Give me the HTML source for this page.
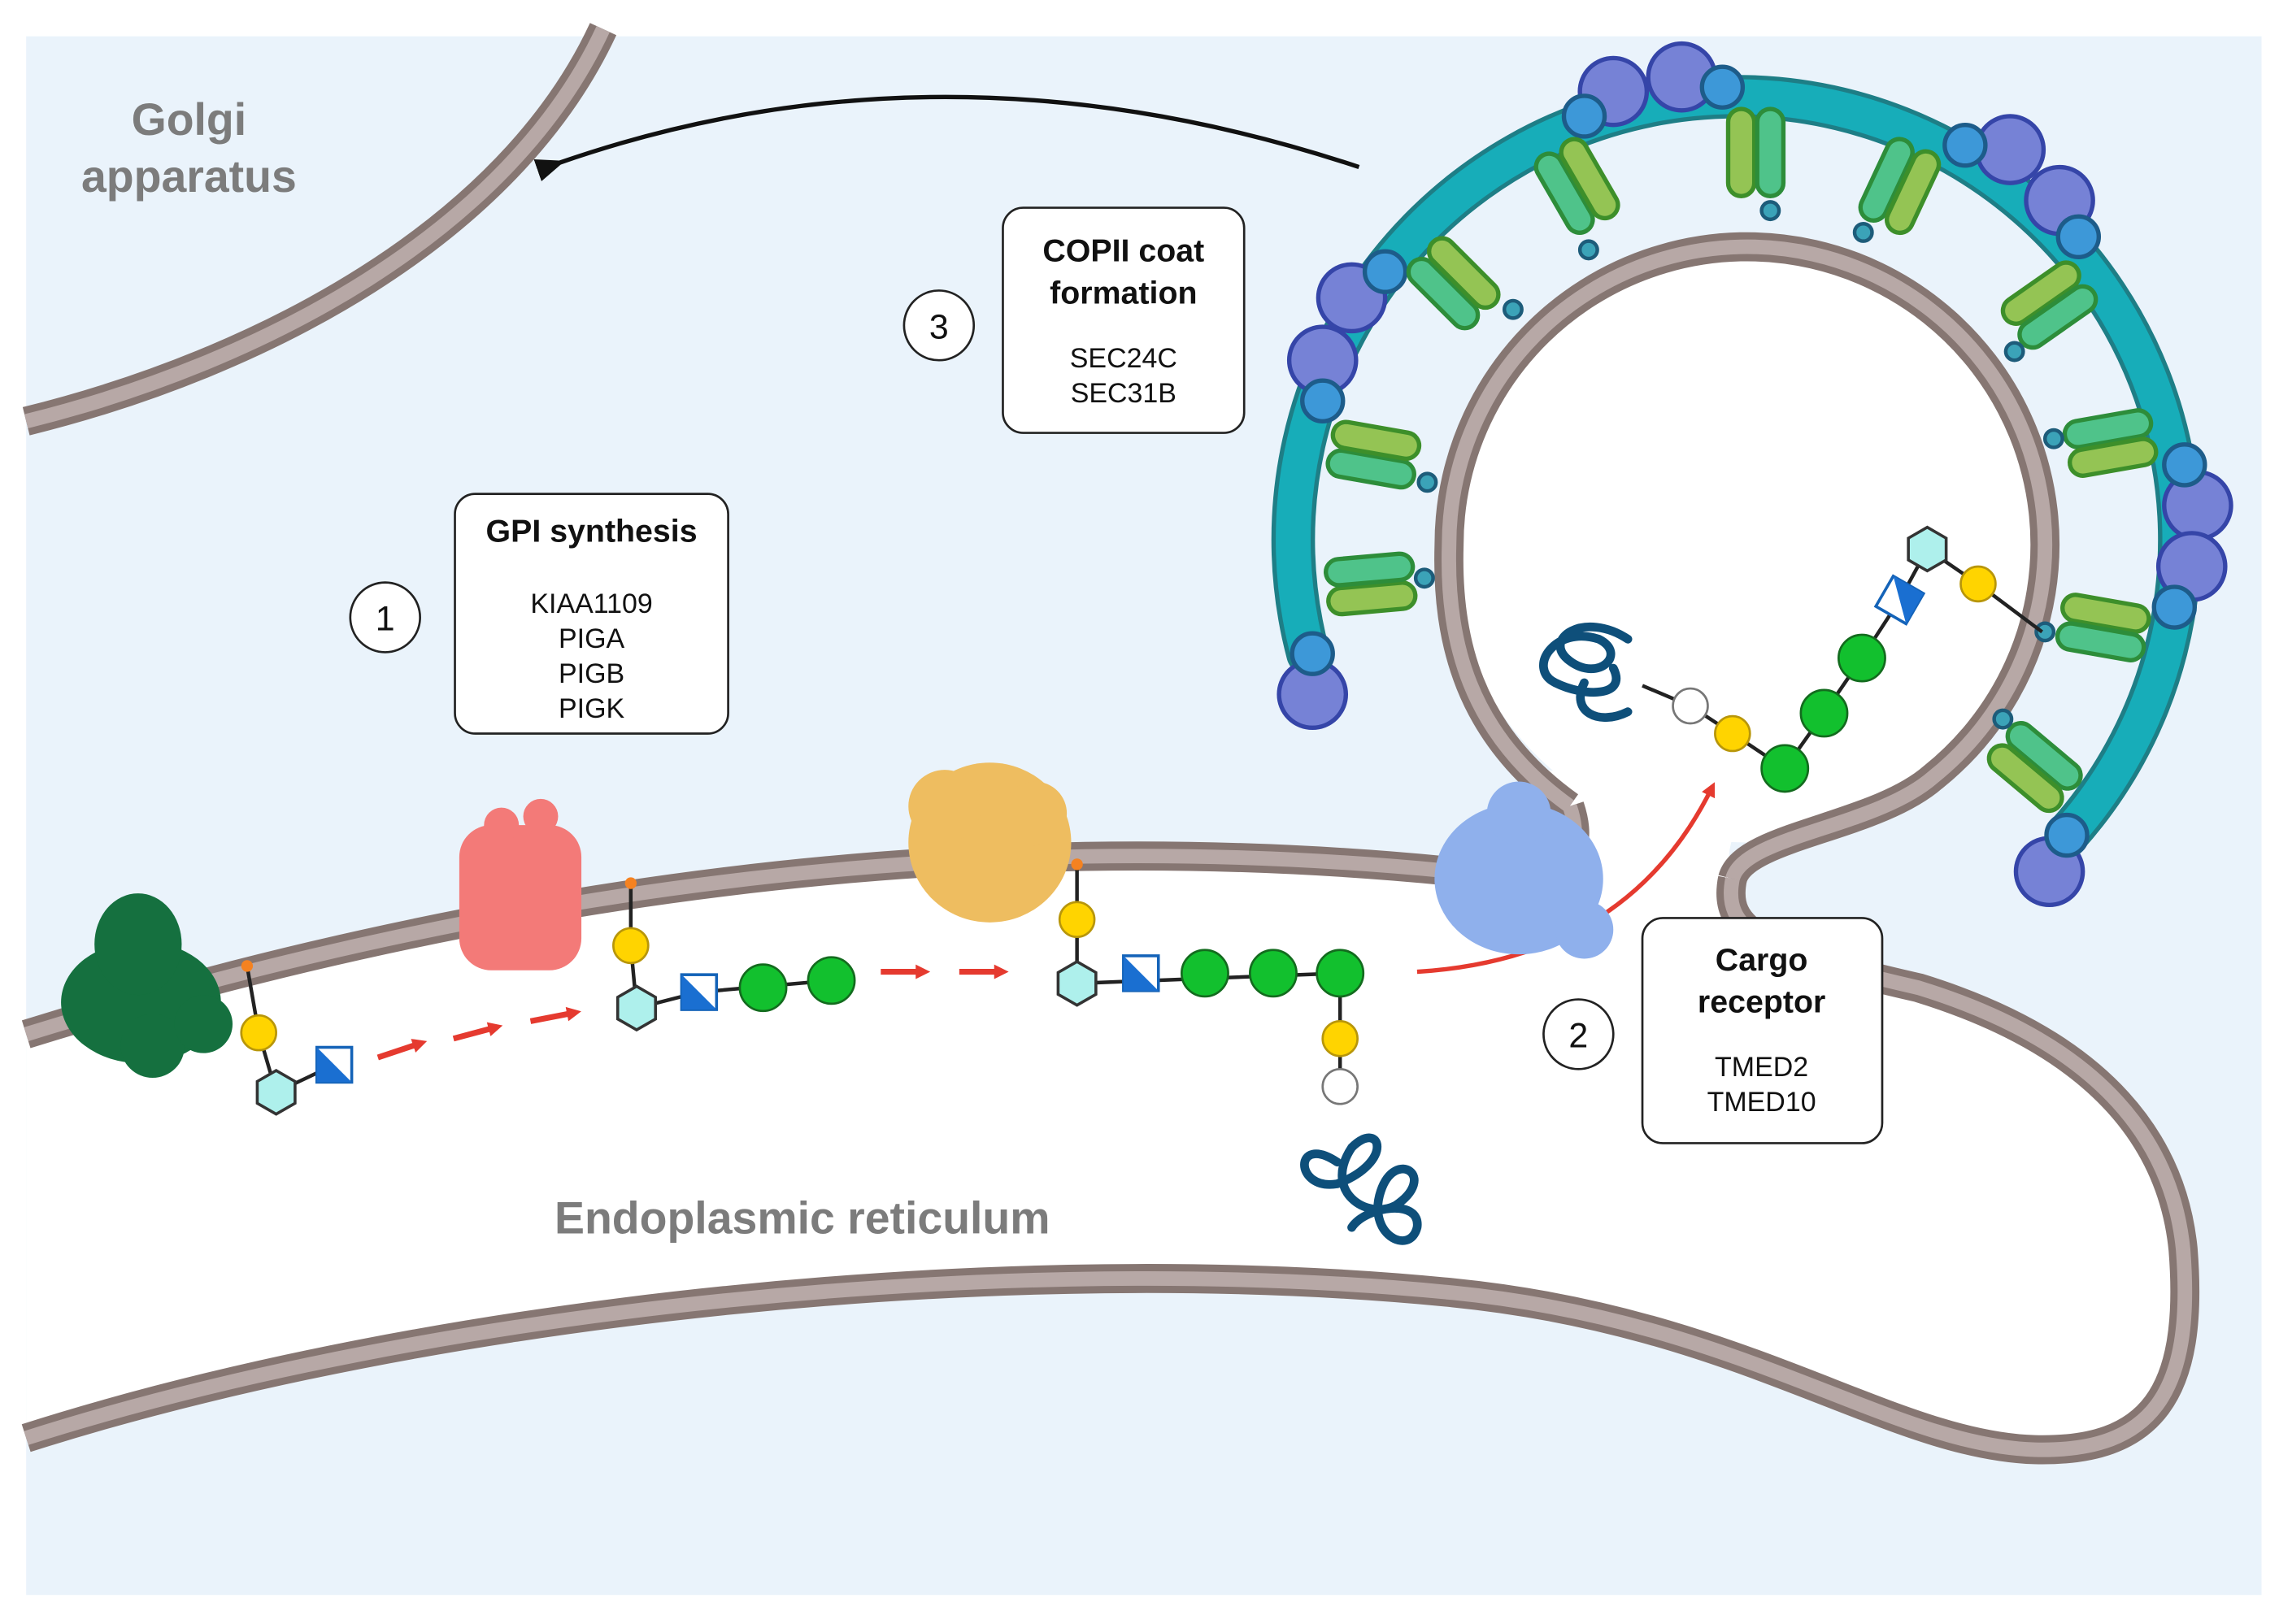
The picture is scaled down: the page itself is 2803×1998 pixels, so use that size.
<!DOCTYPE html>
<html><head><meta charset="utf-8"><style>
html,body{margin:0;padding:0;background:#fff;}
svg{display:block;}
text{font-family:"Liberation Sans",sans-serif;}
</style></head><body>
<svg width="2803" height="1998" viewBox="0 0 1568 1118" preserveAspectRatio="none" xmlns="http://www.w3.org/2000/svg">
<defs>
<marker id="ar" markerWidth="10" markerHeight="10" refX="6" refY="5" orient="auto" markerUnits="userSpaceOnUse"><path d="M0,0 L10,5 L0,10 Z" fill="#e53a2f"/></marker>
<marker id="ab" markerWidth="20" markerHeight="16" refX="4" refY="8" orient="auto" markerUnits="userSpaceOnUse"><path d="M20,0 L0,8 L20,16 Z" fill="#111"/></marker>
<g id="hex"><polygon points="0,-15 13,-7.5 13,7.5 0,15 -13,7.5 -13,-7.5" fill="#aef0ec" stroke="#333" stroke-width="2"/></g>
<g id="sq"><rect x="-12" y="-12" width="24" height="24" fill="#fff" stroke="#1463b8" stroke-width="2"/><polygon points="-12,-12 12,12 -12,12" fill="#1a6fd1"/></g>
<g id="cap1"><rect x="-9" y="-30" width="18" height="60" rx="9" fill="#4fc38a" stroke="#2d8d3a" stroke-width="3"/></g>
<g id="cap2"><rect x="-9" y="-30" width="18" height="60" rx="9" fill="#94c454" stroke="#3d8f2a" stroke-width="3"/></g>
</defs>
<rect width="1568" height="1118" fill="#fff"/>
<rect x="18" y="25" width="1538" height="1073" fill="#eaf3fb"/>
<!-- Golgi -->
<path d="M415,20 C350,160 180,250 18,290" fill="none" stroke="#867672" stroke-width="20"/>
<path d="M415,20 C350,160 180,250 18,290" fill="none" stroke="#b7a8a6" stroke-width="10"/>
<text x="130" y="93" font-size="31" font-weight="bold" fill="#7c7c7c" text-anchor="middle">Golgi</text>
<text x="130" y="132" font-size="31" font-weight="bold" fill="#7c7c7c" text-anchor="middle">apparatus</text>
<!-- ER -->
<path d="M18,712 C250,640 600,560 1000,600 C1060,606 1080,590 1072,560 L1060,530 L1200,540 L1190,585 C1185,630 1210,650 1320,680 C1450,720 1495,790 1502,860 C1510,960 1480,1000 1400,998 C1300,995 1200,910 1000,890 C700,860 300,900 18,990 Z" fill="#fff"/>
<circle cx="1202" cy="375" r="205" fill="#fff"/>
<g fill="none" stroke-linecap="butt">
<g stroke="#867672" stroke-width="20">
<path d="M18,712 C250,640 600,560 1000,600 C1060,606 1095,600 1080,555"/>
<path d="M1192,605 C1185,640 1210,655 1320,680 C1450,720 1495,790 1502,860 C1510,960 1480,1000 1400,998 C1300,995 1200,910 1000,890 C700,860 300,900 18,990"/>
<path d="M1080,555 C1010,505 995,440 997,375 A205,205 0 1 1 1330,535 C1290,570 1200,575 1192,605"/>
</g>
<g stroke="#b7a8a6" stroke-width="10">
<path d="M18,712 C250,640 600,560 1000,600 C1060,606 1095,600 1080,555"/>
<path d="M1192,605 C1185,640 1210,655 1320,680 C1450,720 1495,790 1502,860 C1510,960 1480,1000 1400,998 C1300,995 1200,910 1000,890 C700,860 300,900 18,990"/>
<path d="M1080,555 C1010,505 995,440 997,375 A205,205 0 1 1 1330,535 C1290,570 1200,575 1192,605"/>
</g>
</g>
<text x="552" y="849" font-size="31" font-weight="bold" fill="#7c7c7c" text-anchor="middle">Endoplasmic reticulum</text>
<!-- coat -->
<g fill="none" stroke-linecap="round">
<path d="M900,450 A305,305 0 1 1 1422,575" stroke="#1e7e86" stroke-width="30"/>
<path d="M900,450 A305,305 0 1 1 1422,575" stroke="#17adb9" stroke-width="24"/>
</g>
<g fill="#7682d6" stroke="#3545a8" stroke-width="3">
<circle cx="903" cy="478" r="23"/><circle cx="910" cy="248" r="23"/><circle cx="930" cy="205" r="23"/>
<circle cx="1110" cy="63" r="23"/><circle cx="1157" cy="53" r="23"/><circle cx="1383" cy="103" r="23"/>
<circle cx="1417" cy="138" r="23"/><circle cx="1512" cy="348" r="23"/><circle cx="1508" cy="390" r="23"/>
<circle cx="1410" cy="600" r="23"/>
</g>
<g fill="#3d98d8" stroke="#1d5c8a" stroke-width="3">
<circle cx="903" cy="450" r="14"/><circle cx="910" cy="276" r="14"/><circle cx="953" cy="187" r="14"/>
<circle cx="1090" cy="80" r="14"/><circle cx="1185" cy="60" r="14"/><circle cx="1352" cy="100" r="14"/>
<circle cx="1430" cy="163" r="14"/><circle cx="1503" cy="320" r="14"/><circle cx="1496" cy="418" r="14"/>
<circle cx="1422" cy="575" r="14"/>
</g>
<g>
<g transform="translate(943,402) rotate(-95)"><use href="#cap2" x="-10"/><use href="#cap1" x="10"/></g>
<g transform="translate(945,313) rotate(-80)"><use href="#cap1" x="-10"/><use href="#cap2" x="10"/></g>
<g transform="translate(1000,195) rotate(-45)"><use href="#cap1" x="-10"/><use href="#cap2" x="10"/></g>
<g transform="translate(1085,128) rotate(-30)"><use href="#cap1" x="-10"/><use href="#cap2" x="10"/></g>
<g transform="translate(1208,105)"><use href="#cap2" x="-10"/><use href="#cap1" x="10"/></g>
<g transform="translate(1307,128) rotate(25)"><use href="#cap1" x="-10"/><use href="#cap2" x="10"/></g>
<g transform="translate(1410,210) rotate(55)"><use href="#cap2" x="-10"/><use href="#cap1" x="10"/></g>
<g transform="translate(1452,305) rotate(80)"><use href="#cap1" x="-10"/><use href="#cap2" x="10"/></g>
<g transform="translate(1447,432) rotate(100)"><use href="#cap2" x="-10"/><use href="#cap1" x="10"/></g>
<g transform="translate(1400,528) rotate(130)"><use href="#cap1" x="-10"/><use href="#cap2" x="10"/></g>
</g>
<g fill="#3ba3b8" stroke="#1d5c7a" stroke-width="2.5">
<circle cx="980" cy="398" r="6"/><circle cx="982" cy="332" r="6"/><circle cx="1041" cy="213" r="6"/>
<circle cx="1093" cy="172" r="6"/><circle cx="1218" cy="145" r="6"/><circle cx="1282" cy="160" r="6"/>
<circle cx="1386" cy="242" r="6"/><circle cx="1413" cy="302" r="6"/><circle cx="1407" cy="435" r="6"/>
<circle cx="1378" cy="495" r="6"/>
</g>
<!-- arrows -->
<path d="M935,115 Q650,20 385,112" fill="none" stroke="#111" stroke-width="3" marker-end="url(#ab)"/>
<g stroke="#e53a2f" stroke-width="4" fill="none" marker-end="url(#ar)">
<line x1="260" y1="728" x2="290" y2="718"/><line x1="312" y1="715" x2="342" y2="707"/><line x1="365" y1="703" x2="396" y2="697"/>
<line x1="606" y1="669" x2="636" y2="669"/><line x1="660" y1="669" x2="690" y2="669"/>
</g>
<path d="M975,669 Q1120,660 1178,542" fill="none" stroke="#e53a2f" stroke-width="3" marker-end="url(#ar)"/>
<!-- proteins -->
<g fill="#15703f"><ellipse cx="97" cy="690" rx="55" ry="42"/><ellipse cx="95" cy="650" rx="30" ry="35"/><circle cx="105" cy="720" r="22"/><circle cx="140" cy="705" r="20"/></g>
<g fill="#f37a78"><rect x="316" y="568" width="84" height="100" rx="22"/><circle cx="345" cy="568" r="12"/><circle cx="372" cy="562" r="12"/></g>
<g fill="#eebd60"><ellipse cx="681" cy="580" rx="56" ry="55"/><circle cx="650" cy="555" r="25"/><circle cx="712" cy="560" r="22"/></g>
<g fill="#8fb0ec"><ellipse cx="1045" cy="605" rx="58" ry="52"/><circle cx="1045" cy="560" r="22"/><circle cx="1090" cy="640" r="20"/></g>
<!-- glycan chains -->
<g stroke="#222" stroke-width="2.5" fill="none">
<path d="M170,665 L178,711 L190,752 L230,733"/>
<path d="M434,610 L434,651 L438,694 L481,683 L572,675"/>
<path d="M741,595 L741,633 L741,677 L922,670 L922,748"/>
<path d="M1130,472 L1163,486 L1192,505 L1228,529 L1255,491 L1281,453 L1307,413 L1326,378 L1361,402 L1405,435"/>
</g>
<g fill="#f58220"><circle cx="170" cy="665" r="4"/><circle cx="434" cy="608" r="4"/><circle cx="741" cy="595" r="4"/></g>
<g fill="#ffd400" stroke="#b8960a" stroke-width="1.5">
<circle cx="178" cy="711" r="12"/><circle cx="434" cy="651" r="12"/><circle cx="741" cy="633" r="12"/>
<circle cx="922" cy="715" r="12"/><circle cx="1192" cy="505" r="12"/><circle cx="1361" cy="402" r="12"/>
</g>
<g fill="#fff" stroke="#777" stroke-width="1.5"><circle cx="922" cy="748" r="12"/><circle cx="1163" cy="486" r="12"/></g>
<g fill="#12c02e" stroke="#136b1e" stroke-width="1.5">
<circle cx="525" cy="680" r="16"/><circle cx="572" cy="675" r="16"/>
<circle cx="829" cy="670" r="16"/><circle cx="876" cy="670" r="16"/><circle cx="922" cy="670" r="16"/>
<circle cx="1228" cy="529" r="16"/><circle cx="1255" cy="491" r="16"/><circle cx="1281" cy="453" r="16"/>
</g>
<use href="#hex" x="190" y="752"/><use href="#hex" x="438" y="694"/><use href="#hex" x="741" y="677"/><use href="#hex" x="1326" y="378"/>
<use href="#sq" x="230" y="733"/><use href="#sq" x="481" y="683"/><use href="#sq" x="785" y="670"/>
<g transform="translate(1307,413) rotate(-150)"><use href="#sq"/></g>
<g fill="none" stroke="#0e4f7a" stroke-width="6" stroke-linecap="round">
<path d="M920,800 C890,780 890,820 920,815 C960,800 950,770 930,790 C910,820 940,840 960,830 C990,810 960,790 950,820 C940,850 970,865 975,845 C978,825 940,830 930,845"/>
<path d="M1120,440 C1090,420 1060,440 1080,455 C1100,470 1120,450 1100,440 C1070,430 1050,460 1070,470 C1090,480 1120,480 1110,460 M1090,470 C1080,490 1100,500 1120,490"/>
</g>
<!-- boxes -->
<g fill="#fff" stroke="#222" stroke-width="1.5">
<rect x="313" y="340" width="188" height="165" rx="14"/>
<rect x="690" y="143" width="166" height="155" rx="14"/>
<rect x="1130" y="632" width="165" height="155" rx="14"/>
<circle cx="265" cy="425" r="24"/><circle cx="646" cy="224" r="24"/><circle cx="1086" cy="712" r="24"/>
</g>
<g text-anchor="middle" fill="#111">
<text x="265" y="434" font-size="24">1</text><text x="646" y="233" font-size="24">3</text><text x="1086" y="721" font-size="24">2</text>
<text x="407" y="373" font-size="22" font-weight="bold">GPI synthesis</text>
<text x="407" y="422" font-size="19">KIAA1109</text><text x="407" y="446" font-size="19">PIGA</text>
<text x="407" y="470" font-size="19">PIGB</text><text x="407" y="494" font-size="19">PIGK</text>
<text x="773" y="180" font-size="22" font-weight="bold">COPII coat</text>
<text x="773" y="209" font-size="22" font-weight="bold">formation</text>
<text x="773" y="253" font-size="19">SEC24C</text><text x="773" y="277" font-size="19">SEC31B</text>
<text x="1212" y="668" font-size="22" font-weight="bold">Cargo</text>
<text x="1212" y="697" font-size="22" font-weight="bold">receptor</text>
<text x="1212" y="741" font-size="19">TMED2</text><text x="1212" y="765" font-size="19">TMED10</text>
</g>
</svg>
</body></html>
